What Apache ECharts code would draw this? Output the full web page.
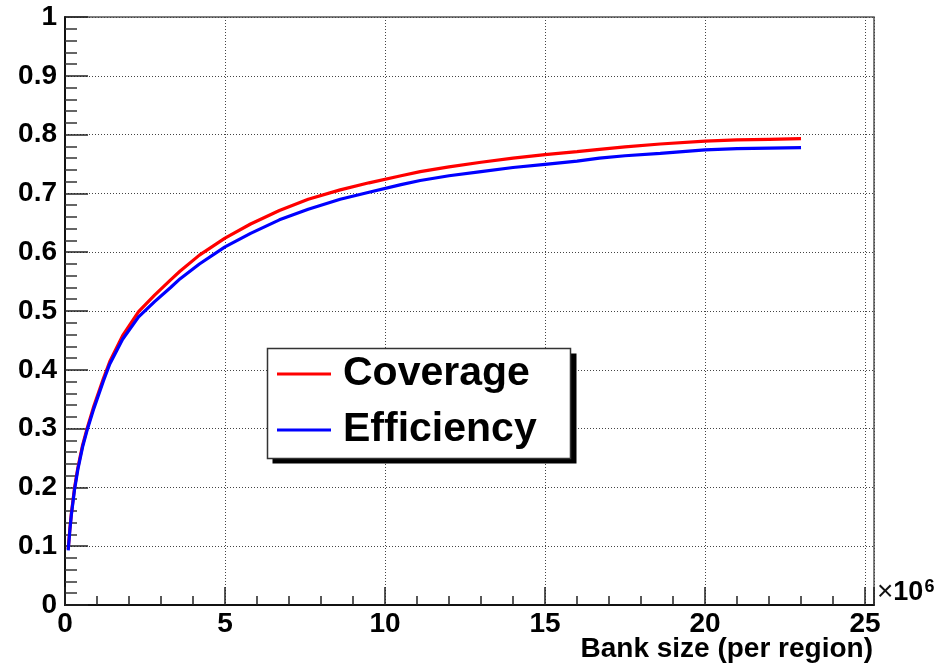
<!DOCTYPE html>
<html>
<head>
<meta charset="utf-8">
<title>Coverage and efficiency vs bank size</title>
<script src="https://cdn.jsdelivr.net/npm/echarts@6/dist/echarts.min.js"></script>
<style>
  html, body { margin: 0; padding: 0; background: #fff; }
  #chart { width: 944px; height: 668px; }
</style>
</head>
<body>
<div id="chart"></div>
<script>
// Bank size per region, in units of 10^6 patterns
const bankSize = [0.1, 0.15, 0.2, 0.3, 0.4, 0.55, 0.7, 0.9, 1.2, 1.4, 1.8, 2.3, 2.8, 3.3, 3.6, 4.2, 5, 5.8, 6.7, 7.6, 8.6, 9.5, 10.5, 11.1, 12, 13, 14, 15, 16, 16.7, 17.5, 18.6, 20, 21, 22, 23];

const coverage = [0.095, 0.128, 0.156, 0.2, 0.233, 0.272, 0.302, 0.338, 0.385, 0.414, 0.458, 0.499, 0.527, 0.553, 0.568, 0.595, 0.624, 0.648, 0.671, 0.690, 0.706, 0.718, 0.730, 0.737, 0.745, 0.753, 0.760, 0.766, 0.771, 0.775, 0.779, 0.784, 0.789, 0.791, 0.792, 0.793];

const efficiency = [0.093, 0.126, 0.154, 0.197, 0.23, 0.269, 0.299, 0.334, 0.381, 0.41, 0.452, 0.49, 0.516, 0.54, 0.555, 0.58, 0.609, 0.632, 0.655, 0.673, 0.690, 0.702, 0.715, 0.722, 0.730, 0.737, 0.744, 0.7495, 0.755, 0.760, 0.764, 0.768, 0.774, 0.776, 0.777, 0.778];

const seriesNames = ['Coverage', 'Efficiency'];
const xTitle = 'Bank size (per region)';

const FONT = '"Liberation Sans", Arial, Helvetica, sans-serif';

const pairs = (xs, ys) => xs.map((x, i) => [x, ys[i]]);

const chart = echarts.init(document.getElementById('chart'), null, { renderer: 'canvas' });

const gridStyle = { show: true, lineStyle: { color: '#444', width: 1, type: [1, 2] } };

chart.setOption({
  animation: false,
  backgroundColor: '#fff',
  grid: {
    left: 65, top: 17, right: 70, bottom: 63,
    show: true, borderColor: '#555', borderWidth: 1.5, backgroundColor: 'transparent'
  },
  xAxis: {
    type: 'value',
    min: 0, max: 25.28, interval: 5,
    axisLine: { show: true, onZero: false, lineStyle: { color: '#111', width: 2 } },
    axisTick: { show: true, inside: true, length: 18, lineStyle: { color: '#222', width: 1.5 } },
    minorTick: { show: true, splitNumber: 5, length: 9, lineStyle: { color: '#222', width: 1.5 } },
    splitLine: gridStyle,
    axisLabel: {
      margin: 5,
      fontFamily: FONT, fontWeight: 'bold', fontSize: 28, color: '#000',
      formatter: v => (Math.abs(v / 5 - Math.round(v / 5)) < 1e-6 ? String(Math.round(v)) : '')
    }
  },
  yAxis: {
    type: 'value',
    min: 0, max: 1, interval: 0.1,
    axisLine: { show: true, onZero: false, lineStyle: { color: '#111', width: 2 } },
    axisTick: { show: true, inside: true, length: 23, lineStyle: { color: '#222', width: 1.5 } },
    minorTick: { show: true, splitNumber: 5, length: 12, lineStyle: { color: '#333', width: 1.5 } },
    splitLine: gridStyle,
    axisLabel: {
      margin: 8,
      fontFamily: FONT, fontWeight: 'bold', fontSize: 28, color: '#000',
      formatter: v => String(+v.toFixed(1))
    }
  },
  legend: {
    orient: 'vertical',
    left: 267, top: 348,
    padding: [3, 32, 5, 10],
    itemGap: 10,
    itemWidth: 54, itemHeight: 3,
    icon: 'rect',
    z: 10,
    textStyle: {
      fontFamily: FONT, fontWeight: 'bold', fontSize: 41, color: '#000',
      lineHeight: 46, padding: [0, 0, 0, 7]
    },
    data: seriesNames
  },
  graphic: [
    // legend frame with its drop shadow
    {
      type: 'rect', z: 5, shape: { x: 272.5, y: 353.5, width: 304, height: 110 },
      style: { fill: '#000' }
    },
    {
      type: 'rect', z: 6, shape: { x: 267.5, y: 348.5, width: 303, height: 110 },
      style: { fill: '#fff', stroke: '#333', lineWidth: 1.5 }
    },
    {
      type: 'text', right: 71, top: 635, z: 6,
      style: { text: xTitle, font: 'bold 28px ' + FONT, fill: '#000' }
    },
    {
      type: 'text', left: 877, top: 578, z: 6,
      style: {
        text: '{t|×}{b|10}{s|6}',
        rich: {
          t: { font: '28px ' + FONT, fill: '#111', verticalAlign: 'bottom' },
          b: { font: 'bold 27px ' + FONT, fill: '#000', verticalAlign: 'bottom' },
          s: { font: 'bold 18px ' + FONT, fill: '#000', verticalAlign: 'top', padding: [0, 0, 10, 1] }
        }
      }
    }
  ],
  series: [
    {
      name: seriesNames[0], type: 'line', data: pairs(bankSize, coverage),
      showSymbol: false, symbol: 'none', smooth: false,
      lineStyle: { color: '#ff0000', width: 3.2 }, itemStyle: { color: '#ff0000' }, z: 3
    },
    {
      name: seriesNames[1], type: 'line', data: pairs(bankSize, efficiency),
      showSymbol: false, symbol: 'none', smooth: false,
      lineStyle: { color: '#0000ff', width: 3.2 }, itemStyle: { color: '#0000ff' }, z: 4
    }
  ]
});
</script>
</body>
</html>
